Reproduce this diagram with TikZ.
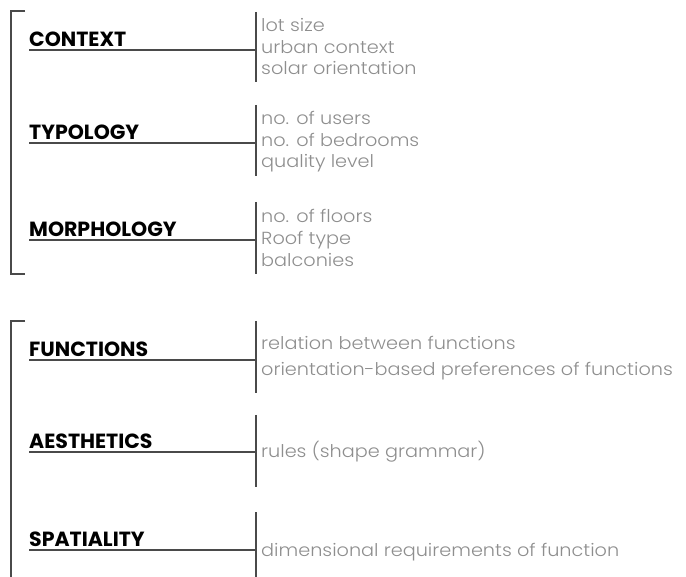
\documentclass[tikz,border=0pt]{standalone}
\usepackage{fontspec}
\setmainfont{Poppins}
\newfontfamily\lightfont{Poppins Light}[FakeStretch=1.10]
\definecolor{linegray}{HTML}{4A4A4A}
\definecolor{itemgray}{HTML}{8E8E8E}
\begin{document}
\begin{tikzpicture}[x=1pt,y=-1pt,
  heading/.style={anchor=base west,inner sep=0pt,font=\fontsize{20.5}{20.5}\selectfont\bfseries,text=black},
  item/.style={anchor=base west,inner sep=0pt,font=\fontsize{17.5}{17.5}\lightfont,text=itemgray},
  rule/.style={draw=linegray,line width=1.2pt},
  brack/.style={draw=linegray,line width=1.1pt}]
\useasboundingbox (0,0) rectangle (686,577);
% brackets
\coordinate (b1t) at (25,11); \coordinate (b1a) at (11,11);
\coordinate (b1b) at (11,274); \coordinate (b1e) at (25,274);
\draw[brack] (b1t) -- (b1a) -- (b1b) -- (b1e);
\coordinate (b2t) at (25,321); \coordinate (b2a) at (11,321);
\coordinate (b2b) at (11,577);
\draw[brack] (b2t) -- (b2a) -- (b2b);
% group CONTEXT
\node[heading] (h1) at (29,47) {CONTEXT};
\coordinate (u1s) at (29,50); \coordinate (u1e) at (256,50);
\coordinate (v1t) at (256,12); \coordinate (v1b) at (256,82);
\draw[rule] (u1s) -- (u1e); \draw[rule] (v1t) -- (v1b);
\node[item] (i11) at (261,32) {lot size};
\node[item] (i12) at (261,53.5) {urban context};
\node[item] (i13) at (261,75) {solar orientation};
% group TYPOLOGY
\node[heading] (h2) at (29,139.5) {TYPOLOGY};
\coordinate (u2s) at (29,143); \coordinate (u2e) at (256,143);
\coordinate (v2t) at (256,105); \coordinate (v2b) at (256,176);
\draw[rule] (u2s) -- (u2e); \draw[rule] (v2t) -- (v2b);
\node[item] (i21) at (261,125) {no. of users};
\node[item] (i22) at (261,146.5) {no. of bedrooms};
\node[item] (i23) at (261,168) {quality level};
% group MORPHOLOGY
\node[heading] (h3) at (29,236.5) {MORPHOLOGY};
\coordinate (u3s) at (29,240); \coordinate (u3e) at (256,240);
\coordinate (v3t) at (256,202); \coordinate (v3b) at (256,274);
\draw[rule] (u3s) -- (u3e); \draw[rule] (v3t) -- (v3b);
\node[item] (i31) at (261,223) {no. of floors};
\node[item] (i32) at (261,245) {Roof type};
\node[item] (i33) at (261,267) {balconies};
% group FUNCTIONS
\node[heading] (h4) at (29,357) {FUNCTIONS};
\coordinate (u4s) at (29,360); \coordinate (u4e) at (256,360);
\coordinate (v4t) at (256,321); \coordinate (v4b) at (256,393);
\draw[rule] (u4s) -- (u4e); \draw[rule] (v4t) -- (v4b);
\node[item] (i41) at (261,350) {relation between functions};
\node[item] (i42) at (261,376) {orientation-based preferences of functions};
% group AESTHETICS
\node[heading] (h5) at (29,448.5) {AESTHETICS};
\coordinate (u5s) at (29,452); \coordinate (u5e) at (256,452);
\coordinate (v5t) at (256,415); \coordinate (v5b) at (256,487);
\draw[rule] (u5s) -- (u5e); \draw[rule] (v5t) -- (v5b);
\node[item] (i51) at (261,457) {rules (shape grammar)};
% group SPATIALITY
\node[heading] (h6) at (29,546.5) {SPATIALITY};
\coordinate (u6s) at (29,550); \coordinate (u6e) at (256,550);
\coordinate (v6t) at (256,512); \coordinate (v6b) at (256,577);
\draw[rule] (u6s) -- (u6e); \draw[rule] (v6t) -- (v6b);
\node[item] (i61) at (261,556) {dimensional requirements of function};
\end{tikzpicture}
\end{document}
